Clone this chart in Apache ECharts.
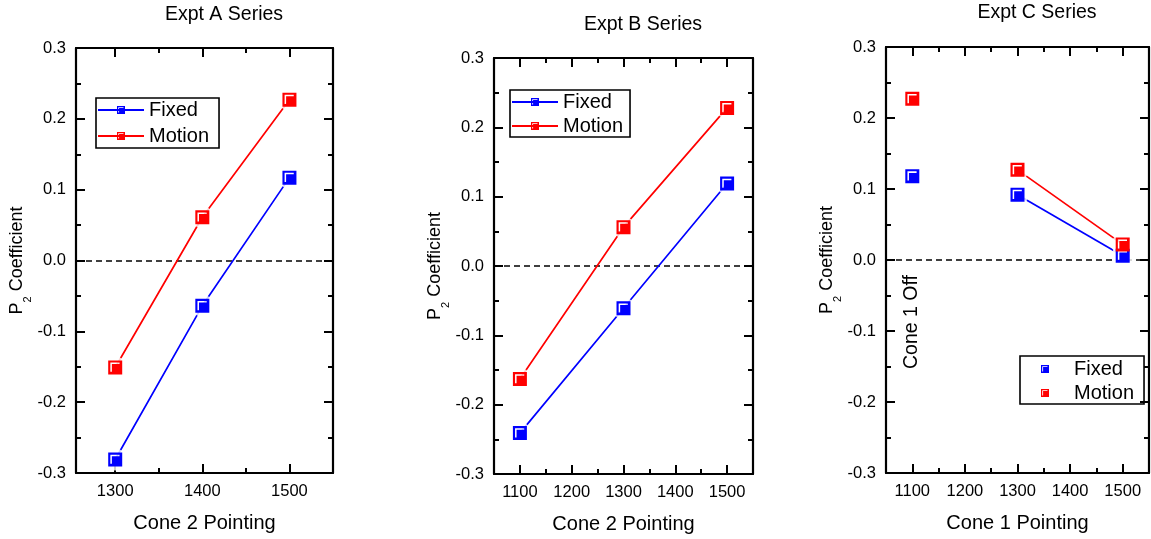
<!DOCTYPE html>
<html>
<head>
<meta charset="utf-8">
<script src="https://cdn.jsdelivr.net/npm/echarts@6/dist/echarts.min.js"></script>
<style>html,body{margin:0;padding:0;background:#fff}#c{width:1151px;height:539px}</style>
</head>
<body>
<div id="c"></div>
<script>
// ---- data ----
const seriesNames = ['Fixed', 'Motion'];
const titles = ['Expt A Series', 'Expt B Series', 'Expt C Series'];
const xNames = ['Cone 2 Pointing', 'Cone 2 Pointing', 'Cone 1 Pointing'];
const aX = [1300, 1400, 1500];
const aFixed = [-0.281, -0.064, 0.117];
const aMotion = [-0.151, 0.061, 0.227];
const bX = [1100, 1300, 1500];
const bFixed = [-0.241, -0.061, 0.119];
const bMotion = [-0.163, 0.056, 0.228];
const cX = [1100, 1300, 1500];
const cFixed = [0.118, 0.092, 0.006];
const cMotion = [0.227, 0.127, 0.022];
const aXTicks = [1300, 1400, 1500];
const aXMinor = [1350, 1450];
const bcXTicks = [1100, 1200, 1300, 1400, 1500];
const bcXMinor = [1150, 1250, 1350, 1450];
const yTicks = [-0.3, -0.2, -0.1, 0.0, 0.1, 0.2, 0.3];
const noteText = 'Cone 1 Off';

// ---- styling ----
const FONT = "'Liberation Sans', Arial, sans-serif";
const BLUE = '#0000ff', RED = '#ff0000';
const colors = [BLUE, RED];
const MARK = 'path://M0 0H13V13H0Z M2 2V10.5H3.4V3.4H10.5V2Z';

const grids = [
  {left: 76, top: 48, width: 257, height: 425},
  {left: 494, top: 58, width: 259, height: 417},
  {left: 886, top: 47, width: 263, height: 426}
];
const xRanges = [[1255, 1550], [1050, 1550], [1050, 1550]];
const xMajor = [aXTicks, bcXTicks, bcXTicks];
const xMinorT = [aXMinor, bcXMinor, bcXMinor];
const panels = [
  {x: aX, ys: [aFixed, aMotion], lineFrom: 0},
  {x: bX, ys: [bFixed, bMotion], lineFrom: 0},
  {x: cX, ys: [cFixed, cMotion], lineFrom: 1}
];

const AXW = 2.2;
const xAxis = [], yAxis = [], series = [];
grids.forEach((g, i) => {
  const base = {type: 'value', gridIndex: i, min: xRanges[i][0], max: xRanges[i][1], splitLine: {show: false}};
  xAxis.push(Object.assign({}, base, {
    position: 'bottom',
    axisLine: {show: true, onZero: false, lineStyle: {color: '#000', width: AXW}},
    axisTick: {show: true, inside: true, length: 9, lineStyle: {width: 2, color: '#000'}, customValues: xMajor[i]},
    axisLabel: {show: true, customValues: xMajor[i], margin: 10, fontSize: 16.5, fontFamily: FONT, color: '#000',
      formatter: v => String(v)},
    name: xNames[i], nameLocation: 'middle', nameGap: 40,
    nameTextStyle: {fontSize: 20, fontFamily: FONT, color: '#000'}
  }));
  xAxis.push(Object.assign({}, base, {
    position: 'top',
    axisLine: {show: true, onZero: false, lineStyle: {color: '#000', width: AXW}},
    axisTick: {show: true, inside: true, length: 9, lineStyle: {width: 2, color: '#000'}, customValues: xMajor[i]},
    axisLabel: {show: false}
  }));
  ['bottom', 'top'].forEach(p => xAxis.push(Object.assign({}, base, {
    position: p,
    axisLine: {show: false, onZero: false},
    axisTick: {show: true, inside: true, length: 5, lineStyle: {width: 2, color: '#000'}, customValues: xMinorT[i]},
    axisLabel: {show: false}
  })));
  const ybase = {type: 'value', gridIndex: i, min: yTicks[0], max: yTicks[yTicks.length - 1], interval: 0.1,
    splitLine: {show: false}, minorSplitLine: {show: false},
    axisLine: {show: true, onZero: false, lineStyle: {color: '#000', width: AXW}},
    axisTick: {show: true, inside: true, length: 9, lineStyle: {width: 2, color: '#000'}},
    minorTick: {show: true, splitNumber: 2, length: 5, lineStyle: {width: 2, color: '#000'}}};
  yAxis.push(Object.assign({}, ybase, {
    position: 'left',
    axisLabel: {show: true, margin: 10, fontSize: 16.5, fontFamily: FONT, color: '#000',
      formatter: v => (Math.abs(v) < 1e-9 ? 0 : v).toFixed(1)},
    name: '{p|P}{s|2}{p| Coefficient}', nameLocation: 'middle', nameGap: 41,
    nameTextStyle: {rich: {
      p: {fontSize: 18, fontFamily: FONT, color: '#000', lineHeight: 26, verticalAlign: 'top'},
      s: {fontSize: 11, fontFamily: FONT, color: '#000', lineHeight: 24, verticalAlign: 'bottom'}
    }}
  }));
  yAxis.push(Object.assign({}, ybase, {position: 'right', axisLabel: {show: false}}));

  const pnl = panels[i];
  const xi = i * 4, yi = i * 2;
  // lines
  pnl.ys.forEach((ys, k) => {
    const s = {
      type: 'line', name: seriesNames[k], xAxisIndex: xi, yAxisIndex: yi, z: 2,
      data: pnl.x.map((x, j) => [x, ys[j]]).slice(pnl.lineFrom),
      symbol: MARK, showSymbol: false, symbolSize: 14,
      lineStyle: {color: colors[k], width: 1.7}, itemStyle: {color: colors[k]},
      silent: true, animation: false
    };
    if (k === 0) {
      s.markLine = {z: 1, silent: true, symbol: ['none', 'none'], label: {show: false},
        lineStyle: {color: '#000', type: [6, 4], width: 1.7}, data: [{yAxis: 0}], animation: false};
    }
    series.push(s);
  });
  // white halos (gap between line and markers)
  pnl.ys.forEach((ys, k) => {
    series.push({
      type: 'scatter', name: 'halo', xAxisIndex: xi, yAxisIndex: yi, z: 3,
      data: pnl.x.map((x, j) => [x, ys[j]]).slice(pnl.lineFrom),
      symbol: 'circle', symbolSize: 22, itemStyle: {color: '#fff'}, silent: true, animation: false
    });
  });
  // markers
  pnl.ys.forEach((ys, k) => {
    series.push({
      type: 'scatter', name: seriesNames[k], xAxisIndex: xi, yAxisIndex: yi, z: 4,
      data: pnl.x.map((x, j) => [x, ys[j]]),
      symbol: MARK, symbolSize: 14, itemStyle: {color: colors[k], opacity: 1}, silent: true, animation: false
    });
  });
});

const legBase = {orient: 'vertical', selectedMode: false, borderColor: '#000', borderWidth: 1.6,
  textStyle: {fontSize: 20, fontFamily: FONT, color: '#000', lineHeight: 22}, z: 6};
const legend = [
  Object.assign({}, legBase, {left: 96, top: 98, data: seriesNames, itemWidth: 46, itemHeight: 10, itemGap: 4, padding: [1, 10, 1, 1]}),
  Object.assign({}, legBase, {left: 510, top: 90, data: seriesNames, itemWidth: 46, itemHeight: 10, itemGap: 2, padding: [1, 7, 0, 1]}),
  Object.assign({}, legBase, {left: 1020, top: 356, data: seriesNames.map(n => ({name: n, icon: MARK})), itemWidth: 48, itemHeight: 8, itemGap: 2, padding: [2, 10, 0, 21]})
];

const titlePos = [[224, 15], [643, 25], [1037, 13]];
const graphic = titles.map((t, i) => ({
  type: 'text', x: titlePos[i][0], y: titlePos[i][1], silent: true,
  style: {text: t, fontSize: 19.5, fontFamily: FONT, fill: '#000', align: 'center', verticalAlign: 'middle'}
}));
graphic.push({
  type: 'text', x: 912, y: 322, rotation: Math.PI / 2, silent: true,
  style: {text: noteText, fontSize: 19.5, fontFamily: FONT, fill: '#000', align: 'center', verticalAlign: 'middle'}
});

const chart = echarts.init(document.getElementById('c'), null, {renderer: 'canvas'});
chart.setOption({
  backgroundColor: '#fff',
  animation: false,
  grid: grids,
  xAxis, yAxis, series, legend, graphic
});
</script>
</body>
</html>
